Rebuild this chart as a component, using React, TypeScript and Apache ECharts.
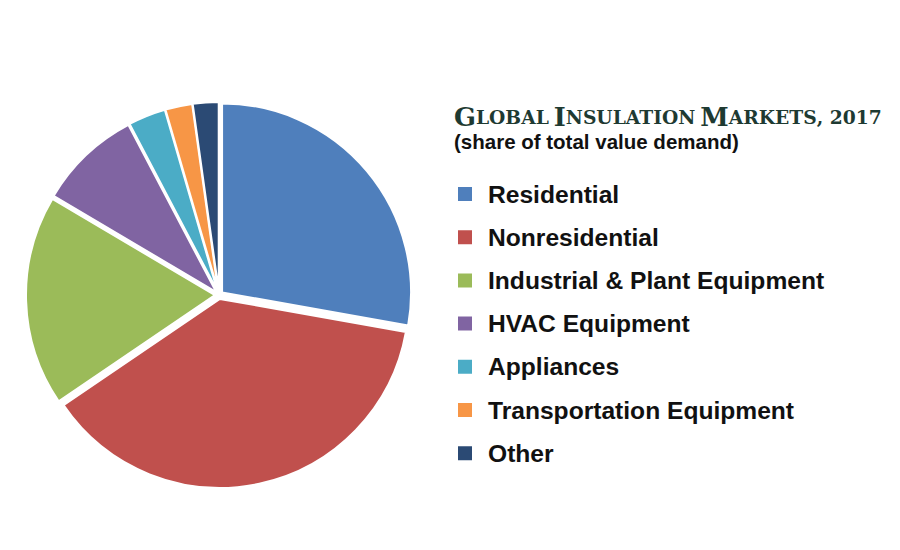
import React, { useEffect, useRef } from "react";
import * as echarts from "echarts";

const categories = [
  "Residential",
  "Nonresidential",
  "Industrial & Plant Equipment",
  "HVAC Equipment",
  "Appliances",
  "Transportation Equipment",
  "Other",
];
const shares = [27.8, 37.7, 18.0, 8.8, 3.2, 2.3, 2.2];
const colors = ["#4F7FBC", "#C0504D", "#9BBB59", "#8064A2", "#4BACC6", "#F79646", "#2B4A74"];

export default function App() {
  const ref = useRef<HTMLDivElement>(null);
  useEffect(() => {
    if (!ref.current) return;
    const chart = echarts.init(ref.current, null, { renderer: "svg" });
    chart.setOption({
      animation: false,
      backgroundColor: "#ffffff",
      color: colors,
      title: [
        {
          text:
            "{b|G}{s|LOBAL} {b|I}{s|NSULATION} {b|M}{s|ARKETS}{s|, 2017}",
          left: 449,
          top: 99,
          textStyle: {
            rich: {
              b: { fontFamily: "DejaVu Serif", fontWeight: "bold", fontSize: 25.7, color: "#1E3A32" },
              s: { fontFamily: "DejaVu Serif", fontWeight: "bold", fontSize: 18.7, color: "#1E3A32" },
            },
          },
        },
        {
          text: "(share of total value demand)",
          left: 449,
          top: 126,
          textStyle: {
            fontFamily: "Liberation Sans",
            fontWeight: "bold",
            fontSize: 20.5,
            color: "#111111",
          },
        },
      ],
      legend: {
        orient: "vertical",
        left: 451,
        top: 176,
        itemWidth: 16,
        itemHeight: 16,
        itemGap: 17.2,
        icon: "rect",
        selectedMode: false,
        data: categories,
        textStyle: {
          fontFamily: "Liberation Sans",
          fontWeight: "bold",
          fontSize: 24.6,
          lineHeight: 26,
          color: "#111111",
          padding: [0, 0, 0, 10],
        },
      },
      series: [
        {
          type: "pie",
          center: [219, 295],
          radius: 189,
          startAngle: 90,
          clockwise: true,
          selectedMode: "multiple",
          selectedOffset: 4,
          label: { show: false },
          labelLine: { show: false },
          itemStyle: { borderColor: "#ffffff", borderWidth: 2 },
          emphasis: { disabled: true },
          data: categories.map((name, i) => ({ name, value: shares[i], selected: true })),
        },
      ],
    });
    return () => chart.dispose();
  }, []);
  return (
    <div
      ref={ref}
      style={{ position: "fixed", left: 0, top: 0, width: 900, height: 550 }}
    />
  );
}
